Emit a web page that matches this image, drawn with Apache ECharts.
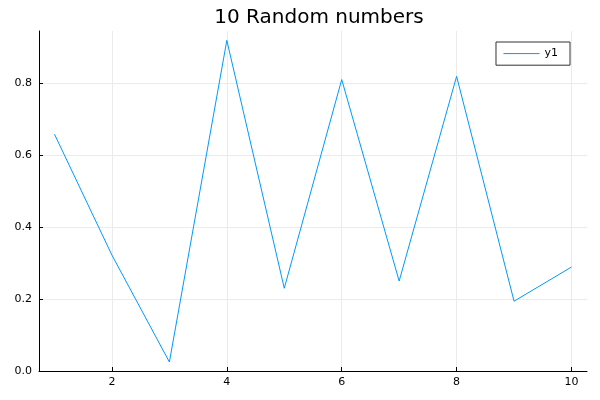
<!DOCTYPE html>
<html>
<head>
<meta charset="utf-8">
<script src="https://cdn.jsdelivr.net/npm/echarts@6/dist/echarts.min.js"></script>
<style>html,body{margin:0;padding:0;background:#fff}#c{width:600px;height:400px}</style>
</head>
<body>
<div id="c"></div>
<script>
const titleText = "10 Random numbers";
const seriesName = "y1";
const xs = [1, 2, 3, 4, 5, 6, 7, 8, 9, 10];
const ys = [0.658, 0.322, 0.025, 0.919, 0.23, 0.81, 0.25, 0.819, 0.194, 0.289];
const xTicks = [2, 4, 6, 8, 10];
const yTicks = [0.0, 0.2, 0.4, 0.6, 0.8];

const font = "DejaVu Sans";
const chart = echarts.init(document.getElementById('c'), null, {renderer: 'canvas'});
chart.setOption({
  animation: false,
  backgroundColor: '#ffffff',
  title: {
    text: titleText, left: 314, top: 3, textAlign: 'center',
    textStyle: {fontFamily: font, fontSize: 20, fontWeight: 'normal', color: '#000'}
  },
  legend: {
    right: 30, top: 42,
    data: [seriesName],
    itemWidth: 36, itemHeight: 14,
    itemStyle: {opacity: 0},
    lineStyle: {width: 1, color: '#009afa'},
    borderColor: '#333', borderWidth: 1, borderRadius: 0,
    padding: [6, 12, 6, 7],
    backgroundColor: '#fff',
    textStyle: {fontFamily: font, fontSize: 11, color: '#000'}
  },
  grid: {left: 39, right: 13, top: 31, bottom: 29, containLabel: false},
  xAxis: {
    type: 'value', min: 0.73, max: 10.27,
    axisLine: {show: true, onZero: false, lineStyle: {color: '#000', width: 1}},
    axisTick: {show: true, inside: true, length: 4, customValues: xTicks, lineStyle: {color: '#000'}},
    axisLabel: {customValues: xTicks, fontFamily: font, fontSize: 11, color: '#000', margin: 6},
    splitLine: {show: true, customValues: xTicks, lineStyle: {color: '#ebebeb', width: 1}}
  },
  yAxis: {
    type: 'value', min: 0, max: 0.945,
    axisLine: {show: true, onZero: false, lineStyle: {color: '#000', width: 1}},
    axisTick: {show: true, inside: true, length: 4, customValues: yTicks, lineStyle: {color: '#000'}},
    axisLabel: {customValues: yTicks, fontFamily: font, fontSize: 11, color: '#000', margin: 7,
      formatter: v => v.toFixed(1)},
    splitLine: {show: true, customValues: yTicks, lineStyle: {color: '#ebebeb', width: 1}}
  },
  series: [{
    name: seriesName, type: 'line',
    data: xs.map((x, i) => [x, ys[i]]),
    symbol: 'none',
    lineStyle: {color: '#009afa', width: 1},
    itemStyle: {color: '#009afa'}
  }]
});
</script>
</body>
</html>
